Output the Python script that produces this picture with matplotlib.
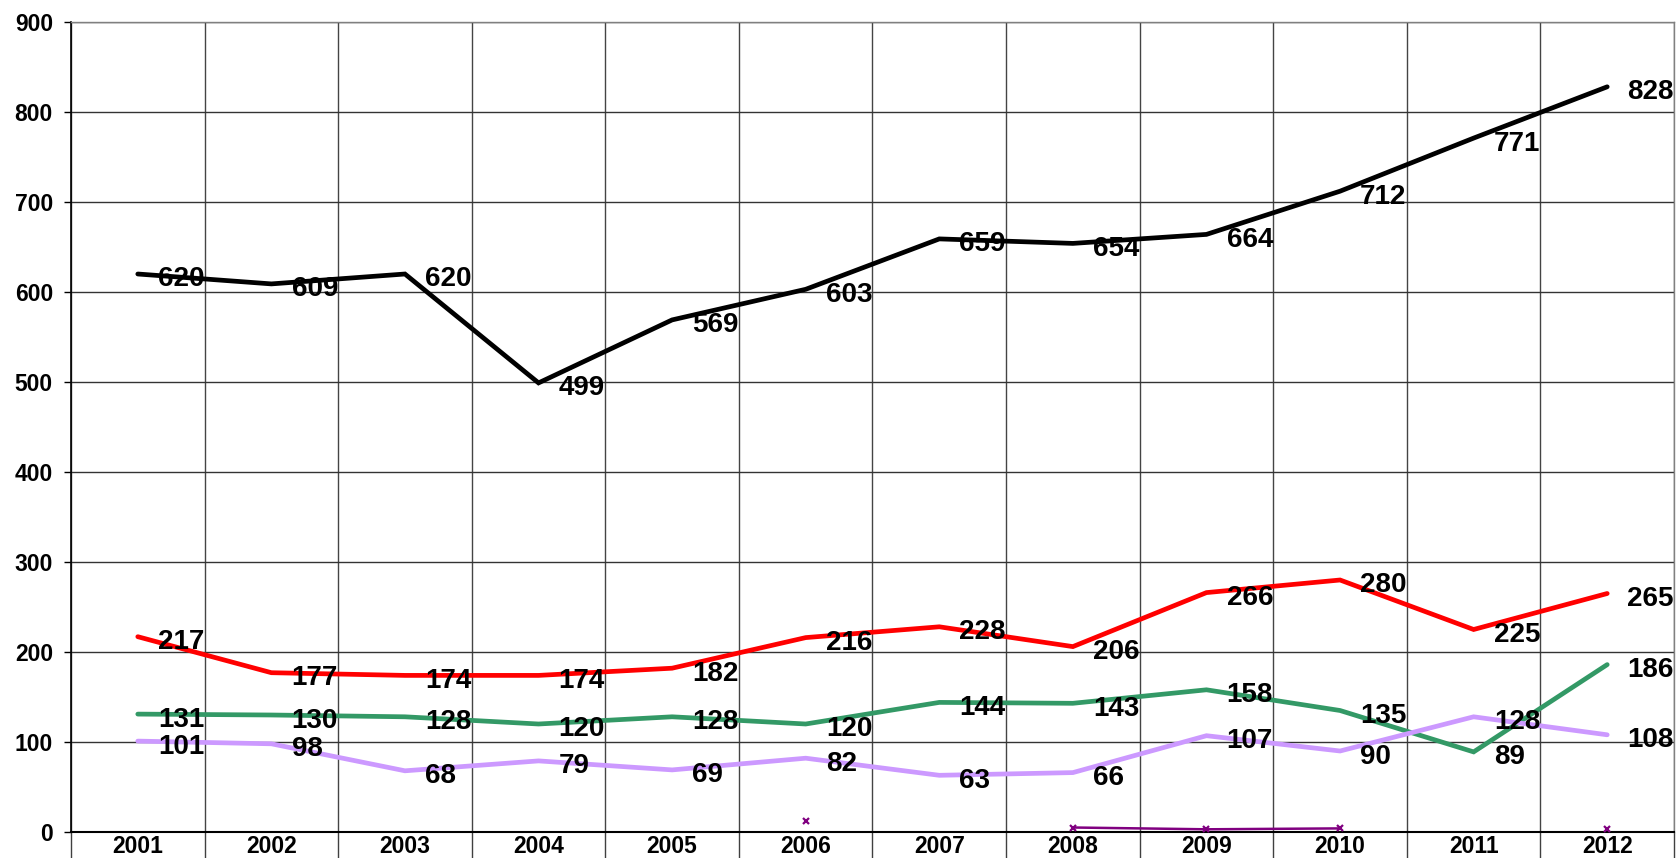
import numpy as np
import matplotlib
matplotlib.use("Agg")
import matplotlib.pyplot as plt

years = ["2001", "2002", "2003", "2004", "2005", "2006",
         "2007", "2008", "2009", "2010", "2011", "2012"]
series_black = [620, 609, 620, 499, 569, 603, 659, 654, 664, 712, 771, 828]
series_red = [217, 177, 174, 174, 182, 216, 228, 206, 266, 280, 225, 265]
series_green = [131, 130, 128, 120, 128, 120, 144, 143, 158, 135, 89, 186]
series_lavender = [101, 98, 68, 79, 69, 82, 63, 66, 107, 90, 128, 108]
series_purple = [np.nan, np.nan, np.nan, np.nan, np.nan, 12, np.nan, 5, 3, 4, np.nan, 3]
y_ticks = [0, 100, 200, 300, 400, 500, 600, 700, 800, 900]

plt.rcParams['font.family'] = ['Liberation Sans', 'DejaVu Sans']
plt.rcParams['font.weight'] = 'bold'

fig = plt.figure(figsize=(16.81, 8.58), dpi=100)
ax = fig.add_axes([71/1681, 1-832/858, (1674-71)/1681, (832-22)/858])

x = np.arange(len(years))

labeled = [
    (series_black, "#000000"),
    (series_red, "#FF0000"),
    (series_green, "#339966"),
    (series_lavender, "#CC99FF"),
]
for vals, col in labeled:
    ax.plot(x, vals, color=col, lw=3.4, solid_capstyle='round',
            solid_joinstyle='miter', zorder=3)

ax.plot(x, series_purple, color="#800080", lw=1.8, marker='x', ms=4.5,
        mew=1.6, zorder=4)

for vals, col in labeled:
    for xi, v in zip(x, vals):
        ax.annotate(str(v), (xi, v), xytext=(14.5, -9.0), textcoords='offset points',
                    ha='left', va='baseline', fontsize=20, fontweight='bold',
                    color='black', zorder=6, annotation_clip=False)

ax.set_xlim(-0.5, len(years) - 0.5)
ax.set_ylim(0, 900)
ax.set_yticks(y_ticks)
ax.set_yticklabels([str(t) for t in y_ticks], fontsize=16.5, fontweight='bold')
ax.set_xticks(x)
ax.set_xticklabels(years, fontsize=16.5, fontweight='bold')
ax.set_xticks(np.arange(-0.5, len(years), 1.0), minor=True)

ax.tick_params(axis='x', which='major', length=0, pad=2)
ax.tick_params(axis='x', which='minor', length=30, width=1.0, color='#404040', direction='out')
ax.tick_params(axis='y', which='major', length=5, width=1.0, direction='out', pad=8)

ax.grid(True, axis='y', which='major', color='#333333', lw=1.0, zorder=0)
ax.grid(True, axis='x', which='minor', color='#444444', lw=1.0, zorder=0)
ax.grid(False, axis='x', which='major')

ax.spines['left'].set_color('black')
ax.spines['left'].set_linewidth(1.2)
ax.spines['bottom'].set_color('black')
ax.spines['bottom'].set_linewidth(1.5)
ax.spines['top'].set_color('#808080')
ax.spines['right'].set_color('#808080')
ax.spines['top'].set_linewidth(1.0)
ax.spines['right'].set_linewidth(1.0)
ax.set_axisbelow(True)

fig.savefig("out.png", dpi=100)
